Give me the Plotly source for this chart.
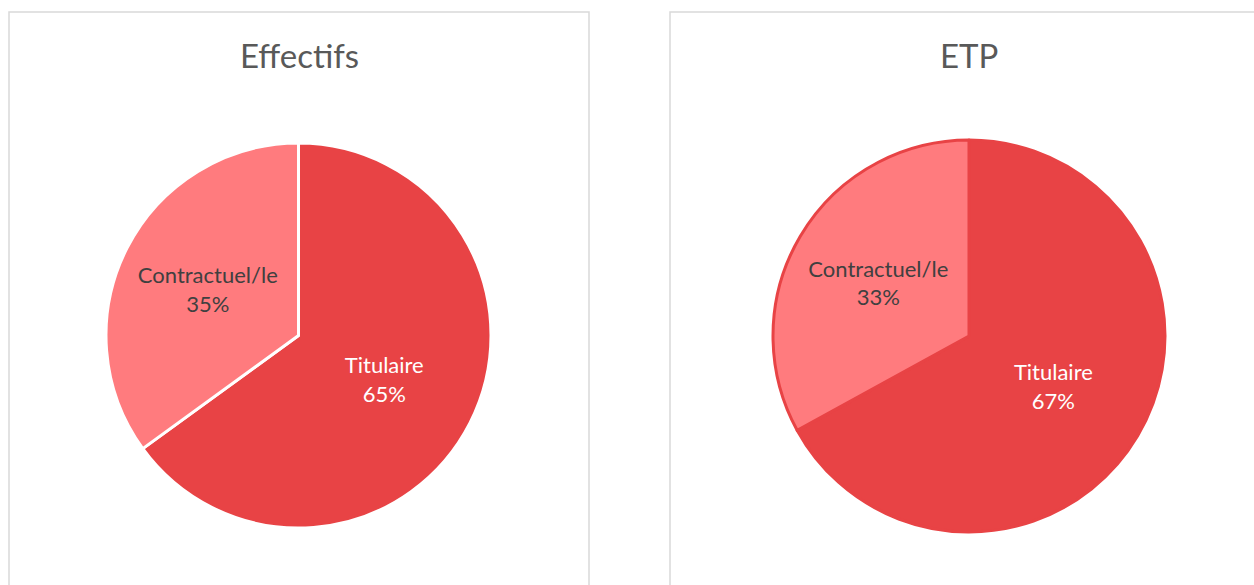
import plotly.graph_objects as go

labels = ["Titulaire", "Contractuel/le"]
effectifs = [65, 35]
etp = [67, 33]
titles = ["Effectifs", "ETP"]

W, H = 1254, 585
c_tit = "#E84345"
c_con = "#FF7B7E"
FONT = "Lato"

def px(x):
    return x / W

def py(y):
    return 1 - y / H

fig = go.Figure()
fig.add_trace(go.Pie(
    labels=labels, values=effectifs, sort=False, direction="clockwise", rotation=0,
    marker=dict(colors=[c_tit, c_con], line=dict(color="white", width=3)),
    texttemplate="%{label}<br>%{percent:.0%}", textposition="inside",
    insidetextfont=dict(color=["white", "#404040"], size=22, family=FONT),
    domain=dict(x=[px(106), px(491)], y=[py(528), py(143)]),
    showlegend=False, hoverinfo="label+percent",
))
fig.add_trace(go.Pie(
    labels=labels, values=etp, sort=False, direction="clockwise", rotation=0,
    marker=dict(colors=[c_tit, c_con], line=dict(color=c_tit, width=3)),
    texttemplate="%{label}<br>%{percent:.0%}", textposition="inside",
    insidetextfont=dict(color=["white", "#404040"], size=22, family=FONT),
    domain=dict(x=[px(773), px(1165)], y=[py(532), py(140)]),
    showlegend=False, hoverinfo="label+percent",
))

shapes = [
    dict(type="rect", xref="paper", yref="paper", x0=px(9), x1=px(589), y0=-0.2, y1=py(12),
         line=dict(color="#D9D9D9", width=1.5), fillcolor="rgba(0,0,0,0)", layer="below"),
    dict(type="rect", xref="paper", yref="paper", x0=px(670), x1=1.2, y0=-0.2, y1=py(12),
         line=dict(color="#D9D9D9", width=1.5), fillcolor="rgba(0,0,0,0)", layer="below"),
]
annotations = [
    dict(text=titles[0], x=px(299), y=py(55), xref="paper", yref="paper", showarrow=False,
         font=dict(size=33, color="#595959", family=FONT), xanchor="center", yanchor="middle"),
    dict(text=titles[1], x=px(969), y=py(55), xref="paper", yref="paper", showarrow=False,
         font=dict(size=33, color="#595959", family=FONT), xanchor="center", yanchor="middle"),
]

fig.update_layout(
    width=W, height=H, margin=dict(l=0, r=0, t=0, b=0),
    paper_bgcolor="white", plot_bgcolor="white",
    shapes=shapes, annotations=annotations,
    uniformtext=dict(minsize=10, mode="show"),
)
fig.write_html("out.html", config={"displayModeBar": False},
               post_script="document.body.style.margin='0';document.body.style.overflow='hidden';")
